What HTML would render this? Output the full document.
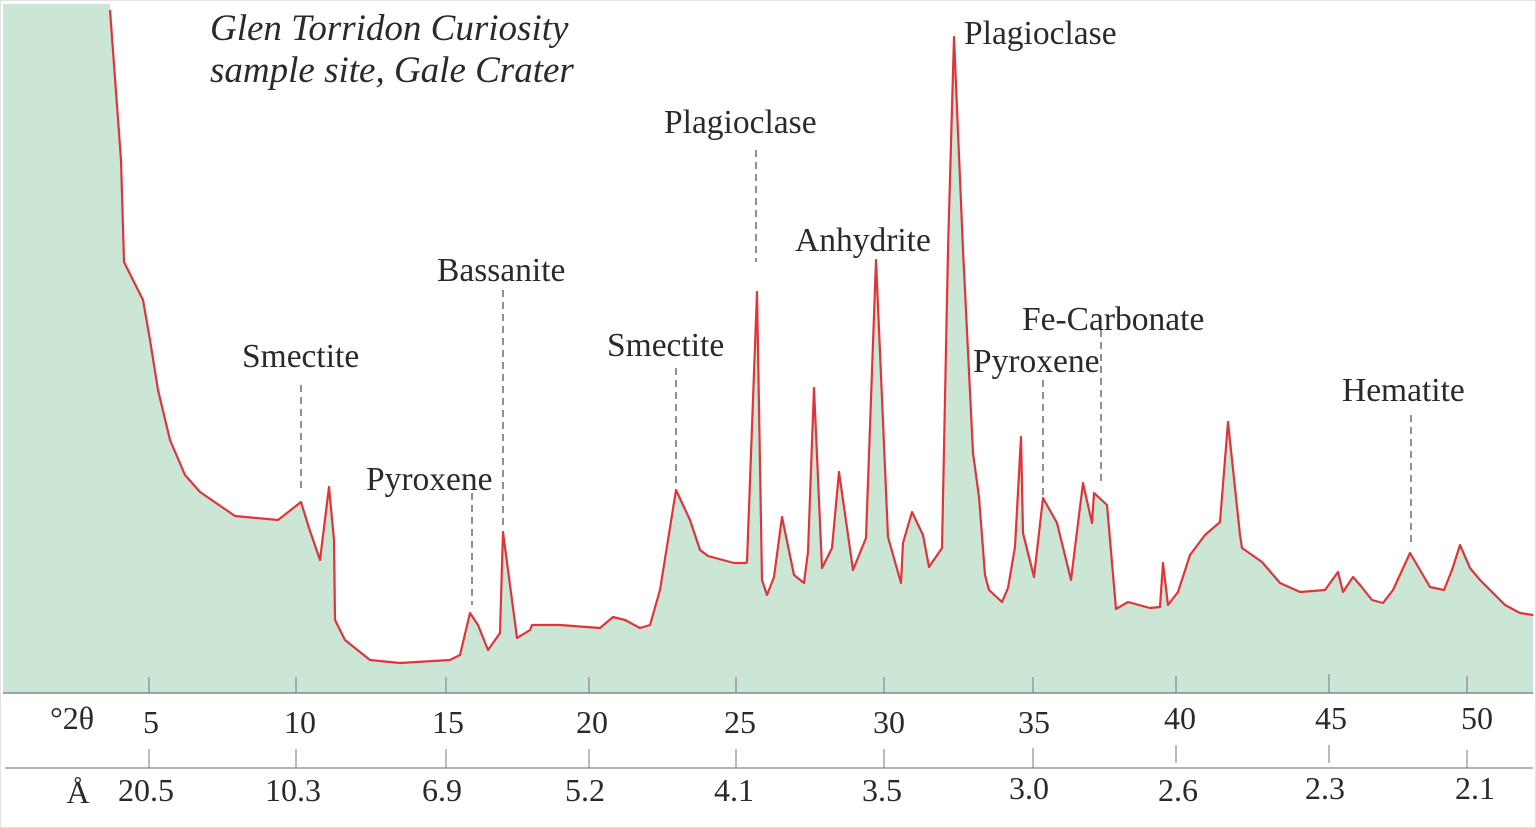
<!DOCTYPE html>
<html><head><meta charset="utf-8"><style>
html,body{margin:0;padding:0;background:#fff;}
svg{display:block;}
text{font-family:"Liberation Serif",serif;fill:#2a2a2a;}
</style></head><body>
<svg width="1536" height="828" viewBox="0 0 1536 828" xmlns="http://www.w3.org/2000/svg">
<rect x="0.5" y="0.5" width="1535" height="827" fill="#fff" stroke="#e2e2e2"/>
<path fill="#cce6d5" d="M3,4 L110,4 L110,10 L121,160 L124,262 L133,280 L143,300 L150,340 L158,390 L170,440 L185,475 L200,492 L235,516 L278,520 L301,502 L309,528 L320,560 L329,487 L334,540 L335,620 L345,640 L370,660 L400,663 L450,660 L460,655 L470,613 L478,625 L488,650 L500,633 L503,532 L517,638 L530,630 L532,625 L560,625 L600,628 L613,617 L625,620 L640,628 L650,625 L660,590 L668,540 L676,490 L690,520 L700,550 L708,556 L734,563 L746,563 L747,562 L757,292 L762,580 L767,595 L774,577 L782,517 L794,575 L804,583 L808,552 L814,388 L822,568 L832,548 L839,472 L853,570 L866,538 L876,260 L888,537 L901,583 L903,543 L912,512 L923,535 L929,567 L942,548 L948,250 L954,37 L963,250 L973,453 L979,497 L985,575 L989,590 L1002,602 L1008,588 L1015,547 L1021,437 L1023,533 L1034,577 L1043,498 L1057,523 L1071,580 L1083,483 L1092,523 L1094,493 L1107,505 L1116,609 L1128,602 L1150,608 L1160,607 L1163,563 L1168,605 L1178,592 L1190,555 L1205,535 L1220,522 L1228,422 L1240,535 L1242,548 L1262,562 L1280,583 L1300,592 L1325,590 L1338,572 L1343,592 L1353,577 L1360,585 L1372,600 L1383,603 L1393,590 L1410,553 L1430,587 L1444,590 L1452,570 L1460,545 L1470,568 L1480,580 L1505,605 L1520,613 L1533,615 L1533,693 L3,693 Z"/>
<polyline fill="none" stroke="#e0343a" stroke-width="2.2" stroke-linejoin="round" points="110,10 121,160 124,262 133,280 143,300 150,340 158,390 170,440 185,475 200,492 235,516 278,520 301,502 309,528 320,560 329,487 334,540 335,620 345,640 370,660 400,663 450,660 460,655 470,613 478,625 488,650 500,633 503,532 517,638 530,630 532,625 560,625 600,628 613,617 625,620 640,628 650,625 660,590 668,540 676,490 690,520 700,550 708,556 734,563 746,563 747,562 757,292 762,580 767,595 774,577 782,517 794,575 804,583 808,552 814,388 822,568 832,548 839,472 853,570 866,538 876,260 888,537 901,583 903,543 912,512 923,535 929,567 942,548 948,250 954,37 963,250 973,453 979,497 985,575 989,590 1002,602 1008,588 1015,547 1021,437 1023,533 1034,577 1043,498 1057,523 1071,580 1083,483 1092,523 1094,493 1107,505 1116,609 1128,602 1150,608 1160,607 1163,563 1168,605 1178,592 1190,555 1205,535 1220,522 1228,422 1240,535 1242,548 1262,562 1280,583 1300,592 1325,590 1338,572 1343,592 1353,577 1360,585 1372,600 1383,603 1393,590 1410,553 1430,587 1444,590 1452,570 1460,545 1470,568 1480,580 1505,605 1520,613 1533,615"/>
<g stroke="#555" stroke-width="1.3" stroke-dasharray="7,5" fill="none">
<line x1="301" y1="385" x2="301" y2="490"/>
<line x1="472" y1="493" x2="472" y2="605"/>
<line x1="503" y1="290" x2="503" y2="525"/>
<line x1="676" y1="368" x2="676" y2="485"/>
<line x1="756" y1="150" x2="756" y2="262"/>
<line x1="1043" y1="380" x2="1043" y2="495"/>
<line x1="1101" y1="330" x2="1101" y2="485"/>
<line x1="1411" y1="415" x2="1411" y2="545"/>
</g>
<g font-size="33.5">
<text x="210" y="40" font-style="italic" font-size="37">Glen Torridon Curiosity</text>
<text x="210" y="82" font-style="italic" font-size="37">sample site, Gale Crater</text>
<text x="242" y="367">Smectite</text>
<text x="366" y="490">Pyroxene</text>
<text x="437" y="281">Bassanite</text>
<text x="607" y="356">Smectite</text>
<text x="664" y="133">Plagioclase</text>
<text x="795" y="251">Anhydrite</text>
<text x="964" y="44">Plagioclase</text>
<text x="1022" y="330">Fe-Carbonate</text>
<text x="973" y="372">Pyroxene</text>
<text x="1342" y="401">Hematite</text>
</g>
<line x1="3" y1="693" x2="1533" y2="693" stroke="#888" stroke-width="1.5"/>
<line x1="5" y1="768" x2="1533" y2="768" stroke="#999" stroke-width="1.5"/>
<g stroke="#777" stroke-width="1">
<line x1="149" y1="677" x2="149" y2="693"/><line x1="296" y1="677" x2="296" y2="693"/><line x1="446" y1="677" x2="446" y2="693"/><line x1="589" y1="677" x2="589" y2="693"/><line x1="736" y1="677" x2="736" y2="693"/><line x1="884" y1="677" x2="884" y2="693"/><line x1="1033" y1="677" x2="1033" y2="693"/><line x1="1176" y1="676" x2="1176" y2="693"/><line x1="1329" y1="674" x2="1329" y2="693"/><line x1="1467" y1="676" x2="1467" y2="693"/>
<line x1="149" y1="749" x2="149" y2="768"/><line x1="296" y1="749" x2="296" y2="768"/><line x1="446" y1="749" x2="446" y2="768"/><line x1="589" y1="749" x2="589" y2="768"/><line x1="736" y1="749" x2="736" y2="768"/><line x1="884" y1="749" x2="884" y2="768"/><line x1="1033" y1="748" x2="1033" y2="768"/><line x1="1176" y1="745" x2="1176" y2="763"/><line x1="1329" y1="745" x2="1329" y2="763"/><line x1="1467" y1="750" x2="1467" y2="768"/>
</g>
<g font-size="32" text-anchor="middle">
<text x="72" y="729">°2θ</text>
<text x="151" y="733">5</text><text x="300" y="733">10</text><text x="448" y="733">15</text><text x="592" y="733">20</text><text x="740" y="733">25</text><text x="889" y="733">30</text><text x="1034" y="733">35</text><text x="1180" y="729">40</text><text x="1331" y="729">45</text><text x="1477" y="729">50</text>
<text x="78" y="803">Å</text>
<text x="146" y="801">20.5</text><text x="293" y="801">10.3</text><text x="442" y="801">6.9</text><text x="585" y="801">5.2</text><text x="734" y="801">4.1</text><text x="882" y="801">3.5</text><text x="1029" y="799">3.0</text><text x="1178" y="801">2.6</text><text x="1325" y="799">2.3</text><text x="1475" y="799">2.1</text>
</g>
</svg>
</body></html>
